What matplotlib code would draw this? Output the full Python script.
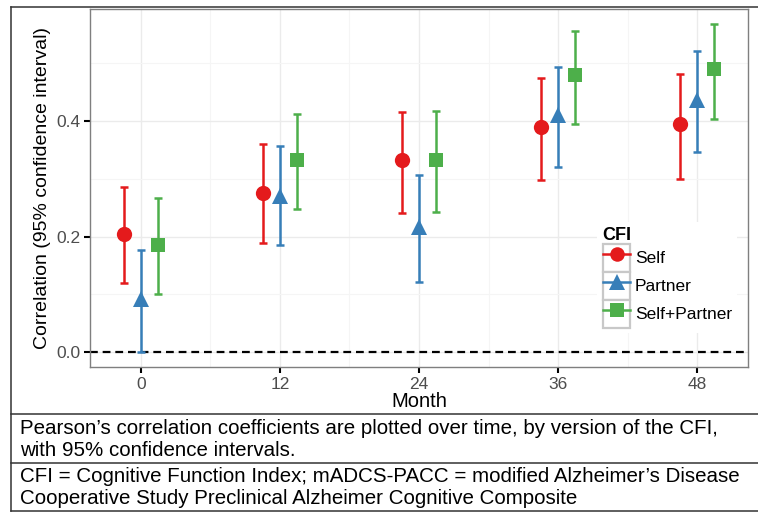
import matplotlib.pyplot as plt
from matplotlib.lines import Line2D
from matplotlib.patches import Rectangle
from matplotlib.legend_handler import HandlerTuple
import numpy as np

plt.rcParams['font.family'] = ['Liberation Sans', 'DejaVu Sans']

months = [0, 12, 24, 36, 48]
series_names = ['Self', 'Partner', 'Self+Partner']

self_r = [0.204, 0.275, 0.332, 0.390, 0.395]
self_lo = [0.119, 0.189, 0.241, 0.298, 0.300]
self_hi = [0.285, 0.360, 0.415, 0.474, 0.481]

partner_r = [0.092, 0.270, 0.217, 0.410, 0.436]
partner_lo = [0.000, 0.185, 0.121, 0.320, 0.346]
partner_hi = [0.177, 0.357, 0.307, 0.493, 0.521]

both_r = [0.185, 0.332, 0.332, 0.480, 0.490]
both_lo = [0.100, 0.247, 0.242, 0.395, 0.403]
both_hi = [0.267, 0.412, 0.417, 0.556, 0.568]

caption1 = ["Pearson\u2019s correlation coefficients are plotted over time, by version of the CFI,",
            "with 95% confidence intervals."]
caption2 = ["CFI = Cognitive Function Index; mADCS-PACC = modified Alzheimer\u2019s Disease",
            "Cooperative Study Preclinical Alzheimer Cognitive Composite"]

colors = ['#E41A1C', '#377EB8', '#4DAF4A']
markers = ['o', '^', 's']
msizes = [11, 12, 10.5]
offsets = [-1.5, 0.0, 1.5]

W, H = 758, 512
fig = plt.figure(figsize=(W / 100, H / 100), dpi=100)

# panel in pixel coords
px_l, px_r, px_t, px_b = 90, 748, 9, 367
ax = fig.add_axes([px_l / W, 1 - px_b / H, (px_r - px_l) / W, (px_b - px_t) / H])

data = [(self_r, self_lo, self_hi), (partner_r, partner_lo, partner_hi), (both_r, both_lo, both_hi)]
m = np.array(months, dtype=float)
for i, (r, lo, hi) in enumerate(data):
    r = np.array(r); lo = np.array(lo); hi = np.array(hi)
    ax.errorbar(m + offsets[i], r, yerr=[r - lo, hi - r], fmt='none',
                ecolor=colors[i], elinewidth=1.8, capsize=3.2, capthick=1.8, zorder=3)
    ax.plot(m + offsets[i], r, linestyle='none', marker=markers[i], markersize=msizes[i],
            color=colors[i], markeredgewidth=0, zorder=4)

ax.axhline(0, color='black', linestyle=(0, (3.5, 2.2)), linewidth=1.6, zorder=2)

ax.set_xlim(-4.4, 52.4)
ax.set_ylim(-0.026, 0.594)
ax.set_xticks(months)
ax.set_xticks([6, 18, 30, 42], minor=True)
ax.set_yticks([0.0, 0.2, 0.4])
ax.set_yticks([0.1, 0.3, 0.5], minor=True)
ax.yaxis.set_major_formatter(plt.FuncFormatter(lambda v, p: f'{v:.1f}'))
ax.grid(which='major', color='#EBEBEB', linewidth=1.0, zorder=0)
ax.grid(which='minor', color='#F5F5F5', linewidth=0.8, zorder=0)
ax.set_axisbelow(True)
ax.tick_params(which='major', length=4, width=1.5, color='black',
               labelsize=12.5, labelcolor='#4D4D4D', pad=3)
ax.tick_params(which='minor', length=0)
for s in ax.spines.values():
    s.set_color('#7F7F7F')
    s.set_linewidth(1.0)

ax.set_xlabel('Month', fontsize=14.5, labelpad=0)
ax.set_ylabel('Correlation (95% confidence interval)', fontsize=14, labelpad=4)

handles = []
for i in range(3):
    box = Rectangle((0, 0), 1, 1, facecolor='white', edgecolor='#C8C8C8', linewidth=1.6)
    ln = Line2D([], [], color=colors[i], marker=markers[i], markersize=msizes[i] * 0.95,
                linewidth=1.8, markeredgewidth=0)
    handles.append((box, ln))
leg = ax.legend(handles, series_names, handler_map={tuple: HandlerTuple(ndivide=1, pad=0)},
                title='CFI', loc='upper left', bbox_to_anchor=(0.758, 0.43),
                fontsize=12.5, title_fontsize=13, frameon=True, fancybox=False,
                edgecolor='none', facecolor='white', framealpha=1,
                handlelength=1.6, handleheight=2.1, handletextpad=0.25,
                labelspacing=0.0, borderpad=0.3, alignment='left')
leg.get_title().set_fontweight('bold')
leg.set_zorder(5)

# outer table frame
def fline(x0, y0, x1, y1):
    fig.add_artist(Line2D([x0 / W, x1 / W], [1 - y0 / H, 1 - y1 / H],
                          color='#333333', linewidth=1.1))

fline(11, 7, W, 7)
fline(11, 7, 11, 511)
fline(11, 414, W, 414)
fline(11, 463, W, 463)
fline(11, 511, W, 511)

for k, line in enumerate(caption1):
    fig.text(20 / W, 1 - (429 + k * 21) / H, line, fontsize=14.8, va='center', ha='left')
for k, line in enumerate(caption2):
    fig.text(20 / W, 1 - (477 + k * 21) / H, line, fontsize=14.8, va='center', ha='left')

fig.savefig('out.png', dpi=100)
